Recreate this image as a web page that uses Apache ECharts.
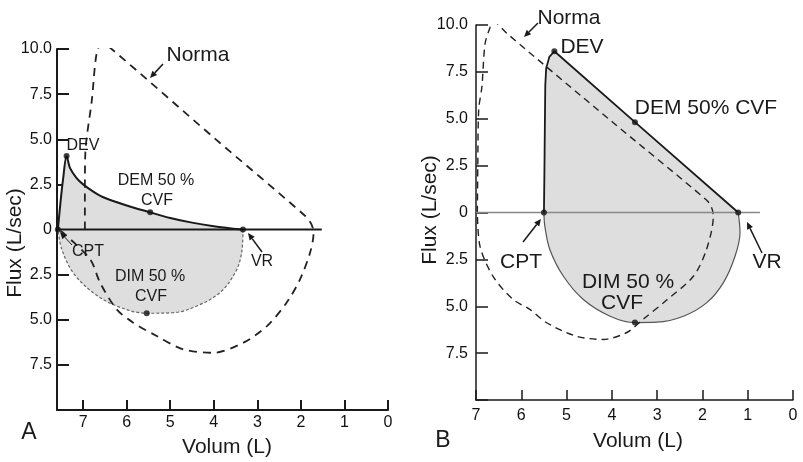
<!DOCTYPE html>
<html>
<head>
<meta charset="utf-8">
<script src="https://cdn.jsdelivr.net/npm/echarts@6/dist/echarts.min.js"></script>
<style>
  html, body { margin: 0; padding: 0; background: #fff; }
  #chart { width: 803px; height: 462px; }
</style>
</head>
<body>
<div id="chart"></div>
<script>
const FONT = '"Liberation Sans", Arial, sans-serif';

// ---- Panel A : volume (L), flow (L/sec) ----
const aPatientExp = [[7.58, 0], [7.52, 1.5], [7.46, 2.8], [7.38, 4.07], [7.3, 3.4], [7.15, 2.85],
  [7.0, 2.5], [6.8, 2.15], [6.55, 1.8], [6.0, 1.33], [5.46, 0.95], [5.0, 0.64], [4.5, 0.38],
  [4.0, 0.18], [3.6, 0.06], [3.33, 0]];
const aPatientInsp = [[3.33, 0], [3.36, -1.29], [3.51, -2.39], [3.86, -3.5], [4.39, -4.24],
  [4.93, -4.61], [5.54, -4.64], [6.23, -4.24], [6.77, -3.5], [7.23, -2.39], [7.49, -1.1], [7.58, 0]];
const aNormal = [[6.96, 0], [6.96, 2.0], [6.95, 4.2], [6.8, 7.17], [6.69, 9.76], [6.57, 10.3],
  [6.42, 10.15], [4.0, 5.09], [1.9, 0.75], [1.76, 0.3], [1.71, -0.2], [1.79, -1.29], [2.02, -2.76],
  [2.33, -4.06], [2.78, -5.35], [3.32, -6.27], [4.01, -6.83], [4.7, -6.64], [5.31, -5.9],
  [5.85, -5.16], [6.23, -4.42], [6.61, -2.95], [6.84, -1.65], [7.46, -0.18], [7.58, 0]];
const aBaseline = [[7.6, 0], [1.52, 0]];
const aPoints = [[7.58, 0], [7.38, 4.07], [5.46, 0.95], [3.33, 0], [5.54, -4.64]];

// ---- Panel B ----
const bPatientExp = [[5.5, 0], [5.49, 2.0], [5.48, 4.5], [5.47, 6.8], [5.45, 7.7], [5.38, 8.3],
  [5.27, 8.6], [3.49, 4.82], [1.21, 0]];
const bPatientInsp = [[1.21, 0], [1.17, -1.08], [1.28, -2.33], [1.54, -3.75], [1.91, -4.82],
  [2.42, -5.53], [3.01, -5.85], [3.49, -5.87], [4.04, -5.53], [4.63, -4.64], [5.07, -3.4],
  [5.37, -1.97], [5.48, -0.73], [5.5, 0]];
const bNormal = [[6.97, 0], [6.96, 2.5], [6.94, 5.5], [6.87, 6.7], [6.8, 9.0], [6.7, 9.8],
  [6.62, 10.18], [6.54, 10.09], [6.32, 9.56], [4.0, 4.85], [1.91, 0.67], [1.8, 0.28], [1.76, -0.2],
  [1.91, -1.97], [2.2, -3.4], [2.79, -4.67], [3.31, -5.7], [3.67, -6.4], [4.19, -6.77],
  [4.78, -6.6], [5.44, -5.88], [5.81, -5.17], [6.18, -4.64], [6.62, -3.42], [6.91, -1.82], [6.97, 0]];
const bBaseline = [[7, 0], [0.73, 0]];
const bPoints = [[5.5, 0], [5.27, 8.6], [3.49, 4.82], [1.21, 0], [3.49, -5.87]];

const xMaxA = 7.6;
const xMaxB = 7;

const chart = echarts.init(document.getElementById('chart'));

function yLabel(v) {
  if (v <= -10) return '';
  if (v === 0) return '0';
  return Math.abs(v).toFixed(1);
}

function xAxisFor(grid, max, margin, lw) {
  return {
    type: 'value', gridIndex: grid, min: 0, max: max, interval: 1, inverse: true,
    axisLine: { onZero: false, lineStyle: { color: '#1a1a1a', width: lw } },
    axisTick: { inside: true, length: 10, lineStyle: { color: '#1a1a1a', width: lw } },
    axisLabel: {
      margin: margin, color: '#111', fontSize: 16, fontFamily: FONT,
      formatter: v => (Number.isInteger(v) ? String(v) : '')
    },
    splitLine: { show: false }
  };
}

function yAxisFor(grid, margin, lw) {
  return {
    type: 'value', gridIndex: grid, min: -10, max: 10, interval: 2.5,
    axisLine: { onZero: false, lineStyle: { color: '#1a1a1a', width: lw } },
    axisTick: { inside: true, length: 12, lineStyle: { color: '#1a1a1a', width: lw } },
    axisLabel: { margin: margin, color: '#111', fontSize: 16, fontFamily: FONT, formatter: yLabel },
    splitLine: { show: false }
  };
}

function panelSeries(i, exp, insp, normal, base, pts, st) {
  return [
    {
      type: 'line', xAxisIndex: i, yAxisIndex: i, data: exp, symbol: 'none', smooth: st.smoothExp, z: 2,
      lineStyle: { color: '#1a1a1a', width: st.expWidth },
      areaStyle: { color: '#dedede', opacity: 1 }
    },
    {
      type: 'line', xAxisIndex: i, yAxisIndex: i, data: insp, symbol: 'none', smooth: 0.35, z: 2,
      lineStyle: { color: st.inspColor, width: 1.2, type: st.inspType },
      areaStyle: { color: '#dedede', opacity: 1 }
    },
    {
      type: 'line', xAxisIndex: i, yAxisIndex: i, data: normal, symbol: 'none', smooth: 0.3, z: 3,
      lineStyle: { color: '#222', width: st.normWidth, type: st.normDash }
    },
    {
      type: 'line', xAxisIndex: i, yAxisIndex: i, data: base, symbol: 'none', z: 4,
      lineStyle: { color: st.baseColor, width: st.baseWidth }
    },
    {
      type: 'scatter', xAxisIndex: i, yAxisIndex: i, data: pts, symbolSize: 6, z: 5,
      itemStyle: { color: '#111' }
    }
  ];
}

function txt(x, y, s, size, rot) {
  return {
    type: 'text', x: x, y: y, rotation: rot || 0, z: 10,
    style: { text: s, fill: '#1a1a1a', font: size + 'px ' + FONT, align: 'center', verticalAlign: 'middle' }
  };
}

function arrow(x1, y1, x2, y2, w) {
  const dx = x2 - x1, dy = y2 - y1, len = Math.hypot(dx, dy);
  const ux = dx / len, uy = dy / len, L = 7, W = 3.2;
  const bx = x2 - ux * L, by = y2 - uy * L;
  return [
    { type: 'line', z: 10, shape: { x1: x1, y1: y1, x2: bx, y2: by }, style: { stroke: '#1a1a1a', lineWidth: w } },
    { type: 'polygon', z: 10, shape: { points: [[x2, y2], [bx - uy * W, by + ux * W], [bx + uy * W, by - ux * W]] },
      style: { fill: '#1a1a1a' } }
  ];
}

const graphics = [
  // panel A
  txt(198, 55, 'Norma', 21), ...arrow(163, 64, 150, 78, 1.5),
  txt(83, 146, 'DEV', 16),
  txt(156, 181, 'DEM 50 %', 16), txt(157, 201, 'CVF', 16),
  txt(88, 252, 'CPT', 16), ...arrow(72, 245, 60, 232, 1),
  txt(262, 262, 'VR', 16), ...arrow(262, 252, 248, 233, 1.5),
  txt(150, 277, 'DIM 50 %', 16), txt(151, 297, 'CVF', 16),
  txt(29, 433, 'A', 23),
  txt(227, 447, 'Volum (L)', 21),
  txt(15, 243, 'Flux (L/sec)', 21, Math.PI / 2),
  // panel B
  txt(569, 18, 'Norma', 21), ...arrow(538, 23, 524, 37, 1.5),
  txt(582, 47, 'DEV', 21),
  txt(706, 108, 'DEM 50% CVF', 21),
  txt(521, 262, 'CPT', 21), ...arrow(523, 242, 541, 219, 1.5),
  txt(767, 262, 'VR', 21), ...arrow(762, 253, 747, 222, 1.5),
  txt(628, 282, 'DIM 50 %', 21), txt(622, 303, 'CVF', 21),
  txt(443, 441, 'B', 23),
  txt(638, 441, 'Volum (L)', 21),
  txt(430, 210, 'Flux (L/sec)', 21, Math.PI / 2)
];

chart.setOption({
  animation: false,
  backgroundColor: '#fff',
  grid: [
    { left: 57, right: 415, top: 49, bottom: 52 },
    { left: 476, right: 10, top: 25, bottom: 62 }
  ],
  xAxis: [xAxisFor(0, xMaxA, 5, 2), xAxisFor(1, xMaxB, 8, 1.5)],
  yAxis: [yAxisFor(0, 5, 2), yAxisFor(1, 8, 1.5)],
  series: [
    ...panelSeries(0, aPatientExp, aPatientInsp, aNormal, aBaseline, aPoints, {
      smoothExp: 0.3, expWidth: 2, inspColor: '#666', inspType: [3, 2],
      normWidth: 1.8, normDash: [8, 6], baseColor: '#1a1a1a', baseWidth: 2
    }),
    ...panelSeries(1, bPatientExp, bPatientInsp, bNormal, bBaseline, bPoints, {
      smoothExp: false, expWidth: 1.8, inspColor: '#555', inspType: 'solid',
      normWidth: 1.4, normDash: [7, 5], baseColor: '#888', baseWidth: 1.5
    })
  ],
  graphic: graphics
});
</script>
</body>
</html>
